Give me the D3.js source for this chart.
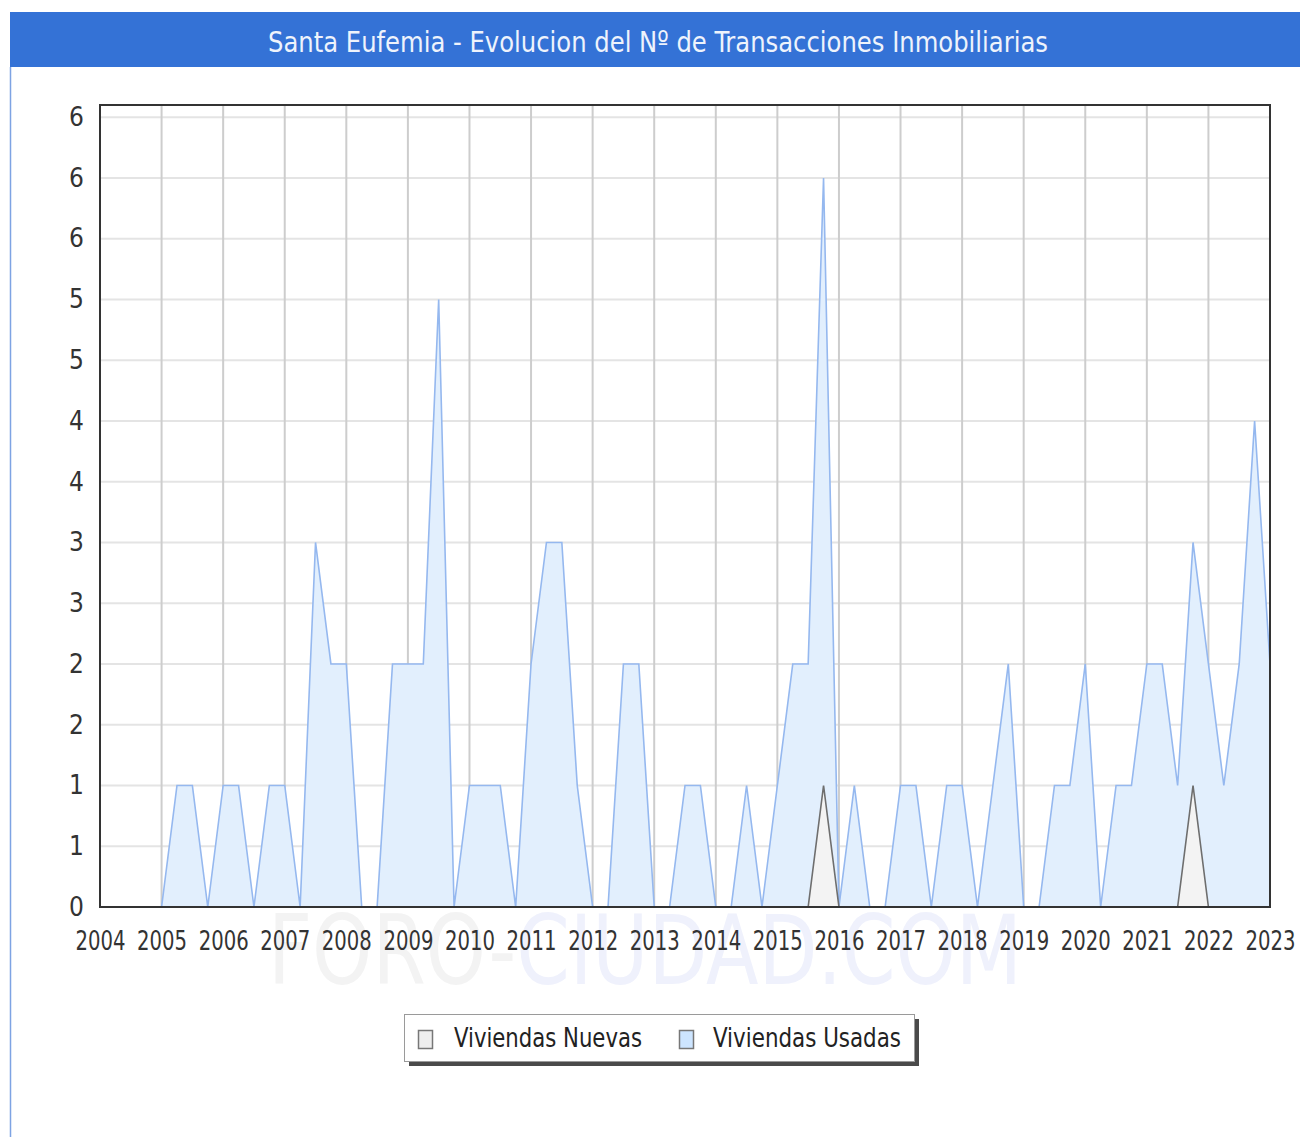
<!DOCTYPE html>
<html>
<head>
<meta charset="utf-8">
<script src="https://cdn.jsdelivr.net/npm/d3@7"></script>
<style>
  body { margin: 0; background: #fff; }
  svg { display: block; }
  text { font-family: "DejaVu Sans Condensed", "DejaVu Sans", sans-serif; }
</style>
</head>
<body>
<svg id="chart" width="1300" height="1137"></svg>
<script>
// quarterly series, first value = 2004 Q1
var startYear = 2004;
var viviendasUsadas = [
  0, 0, 0, 0,   // 2004
  0, 1, 1, 0,   // 2005
  1, 1, 0, 1,   // 2006
  1, 0, 3, 2,   // 2007
  2, 0, 0, 2,   // 2008
  2, 2, 5, 0,   // 2009
  1, 1, 1, 0,   // 2010
  2, 3, 3, 1,   // 2011
  0, 0, 2, 2,   // 2012
  0, 0, 1, 1,   // 2013
  0, 0, 1, 0,   // 2014
  1, 2, 2, 6,   // 2015
  0, 1, 0, 0,   // 2016
  1, 1, 0, 1,   // 2017
  1, 0, 1, 2,   // 2018
  0, 0, 1, 1,   // 2019
  2, 0, 1, 1,   // 2020
  2, 2, 1, 3,   // 2021
  2, 1, 2, 4,   // 2022
  2             // 2023
];
var viviendasNuevas = [
  0, 0, 0, 0,
  0, 0, 0, 0,
  0, 0, 0, 0,
  0, 0, 0, 0,
  0, 0, 0, 0,
  0, 0, 0, 0,
  0, 0, 0, 0,
  0, 0, 0, 0,
  0, 0, 0, 0,
  0, 0, 0, 0,
  0, 0, 0, 0,
  0, 0, 0, 1,
  0, 0, 0, 0,
  0, 0, 0, 0,
  0, 0, 0, 0,
  0, 0, 0, 0,
  0, 0, 0, 0,
  0, 0, 0, 1,
  0, 0, 0, 0,
  0
];
var xTickYears = [2004, 2005, 2006, 2007, 2008, 2009, 2010, 2011, 2012, 2013,
                  2014, 2015, 2016, 2017, 2018, 2019, 2020, 2021, 2022, 2023];
var yTickValues = [0, 0.5, 1, 1.5, 2, 2.5, 3, 3.5, 4, 4.5, 5, 5.5, 6, 6.5];
var yTickLabels = ["0", "1", "1", "2", "2", "3", "3", "4", "4", "5", "5", "6", "6", "6"];
var seriesNames = ["Viviendas Nuevas", "Viviendas Usadas"];
var titleText = "Santa Eufemia - Evolucion del N\u00ba de Transacciones Inmobiliarias";

(function() {
  var svg = d3.select("#chart");

  // plot area
  var pLeft = 100, pRight = 1270, pTop = 105, pBottom = 907;

  var x = d3.scaleLinear().domain([2004, 2023]).range([pLeft, pRight]);
  var y = d3.scaleLinear().domain([0, 6.6]).range([pBottom, pTop]);

  // title bar and panel edge
  svg.append("rect")
    .attr("x", 10).attr("y", 12)
    .attr("width", 1290).attr("height", 55)
    .attr("fill", "#3472d6");
  svg.append("line")
    .attr("x1", 10.5).attr("x2", 10.5)
    .attr("y1", 67).attr("y2", 1137)
    .attr("stroke", "#7ea3e3").attr("stroke-width", 1.5);
  svg.append("text")
    .attr("x", 658).attr("y", 52)
    .attr("text-anchor", "middle")
    .attr("fill", "#eef3fc")
    .style("font-size", "29px")
    .attr("textLength", 780)
    .attr("lengthAdjust", "spacingAndGlyphs")
    .text(titleText);

  // watermark behind axis labels
  var wm = svg.append("text")
    .attr("x", 268).attr("y", 984)
    .style("font-size", "96px")
    .attr("textLength", 754)
    .attr("lengthAdjust", "spacingAndGlyphs");
  wm.append("tspan").attr("fill", "#f3f3f3").text("FORO-");
  wm.append("tspan").attr("fill", "#eff1fc").text("CIUDAD.COM");

  // grid
  var grid = svg.append("g");
  grid.selectAll(".hgrid")
    .data(yTickValues.filter(function(d) { return d > 0; }))
    .enter().append("line")
    .attr("x1", pLeft).attr("x2", pRight)
    .attr("y1", function(d) { return y(d); })
    .attr("y2", function(d) { return y(d); })
    .attr("stroke", "#e4e4e4").attr("stroke-width", 2);
  grid.selectAll(".vgrid")
    .data(xTickYears.slice(1, -1))
    .enter().append("line")
    .attr("x1", function(d) { return x(d); })
    .attr("x2", function(d) { return x(d); })
    .attr("y1", pTop).attr("y2", pBottom)
    .attr("stroke", "#cdcdcd").attr("stroke-width", 2);

  // build point lists
  function toPoints(values) {
    var pts = [];
    for (var i = 0; i < values.length; i++) {
      pts.push({ t: startYear + i / 4, v: values[i] });
    }
    return pts;
  }
  var usadasPts = toPoints(viviendasUsadas);
  var nuevasPts = toPoints(viviendasNuevas);

  var area = d3.area()
    .x(function(d) { return x(d.t); })
    .y0(y(0))
    .y1(function(d) { return y(d.v); });
  var line = d3.line()
    .x(function(d) { return x(d.t); })
    .y(function(d) { return y(d.v); });

  var plot = svg.append("g");
  plot.append("path").datum(usadasPts)
    .attr("d", area).attr("fill", "#e2effd");
  plot.append("path").datum(usadasPts)
    .attr("d", line).attr("fill", "none")
    .attr("stroke", "#95b8ef").attr("stroke-width", 1.6);
  plot.append("path").datum(nuevasPts)
    .attr("d", area).attr("fill", "#f3f3f3");
  plot.append("path").datum(nuevasPts)
    .attr("d", line).attr("fill", "none")
    .attr("stroke", "#6e6e6e").attr("stroke-width", 1.6);

  // plot border
  svg.append("rect")
    .attr("x", pLeft).attr("y", pTop)
    .attr("width", pRight - pLeft).attr("height", pBottom - pTop)
    .attr("fill", "none").attr("stroke", "#333").attr("stroke-width", 2);

  // axes
  var xAxis = svg.append("g")
    .attr("transform", "translate(0," + pBottom + ")")
    .call(d3.axisBottom(x).tickValues(xTickYears).tickFormat(d3.format("d")).tickSize(0).tickPadding(25));
  var yAxis = svg.append("g")
    .attr("transform", "translate(" + pLeft + ",0)")
    .call(d3.axisLeft(y).tickValues(yTickValues)
      .tickFormat(function(d, i) { return yTickLabels[i]; })
      .tickSize(0).tickPadding(16));
  svg.selectAll(".domain").remove();
  svg.selectAll(".tick text")
    .attr("fill", "#333")
    .style("font-size", "26px");
  xAxis.selectAll(".tick text")
    .attr("textLength", 50)
    .attr("lengthAdjust", "spacingAndGlyphs");

  // legend
  var legend = svg.append("g");
  legend.append("rect")
    .attr("x", 409).attr("y", 1019)
    .attr("width", 510).attr("height", 47)
    .attr("fill", "#4a4a4a");
  legend.append("rect")
    .attr("x", 404.5).attr("y", 1014.5)
    .attr("width", 510).attr("height", 47)
    .attr("fill", "#fff").attr("stroke", "#9a9a9a");
  var legendItems = [
    { name: seriesNames[0], fill: "#eeeeee", sx: 418, tx: 454 },
    { name: seriesNames[1], fill: "#cde5ff", sx: 679, tx: 713 }
  ];
  legend.selectAll(".sw")
    .data(legendItems)
    .enter().append("rect")
    .attr("x", function(d) { return d.sx + 0.5; })
    .attr("y", 1030.5)
    .attr("width", 14).attr("height", 18)
    .attr("fill", function(d) { return d.fill; })
    .attr("stroke", "#777").attr("stroke-width", 1.5);
  legend.selectAll(".lt")
    .data(legendItems)
    .enter().append("text")
    .attr("x", function(d) { return d.tx; })
    .attr("y", 1047)
    .attr("fill", "#222")
    .style("font-size", "26px")
    .attr("textLength", 188)
    .attr("lengthAdjust", "spacingAndGlyphs")
    .text(function(d) { return d.name; });
})();
</script>
</body>
</html>
